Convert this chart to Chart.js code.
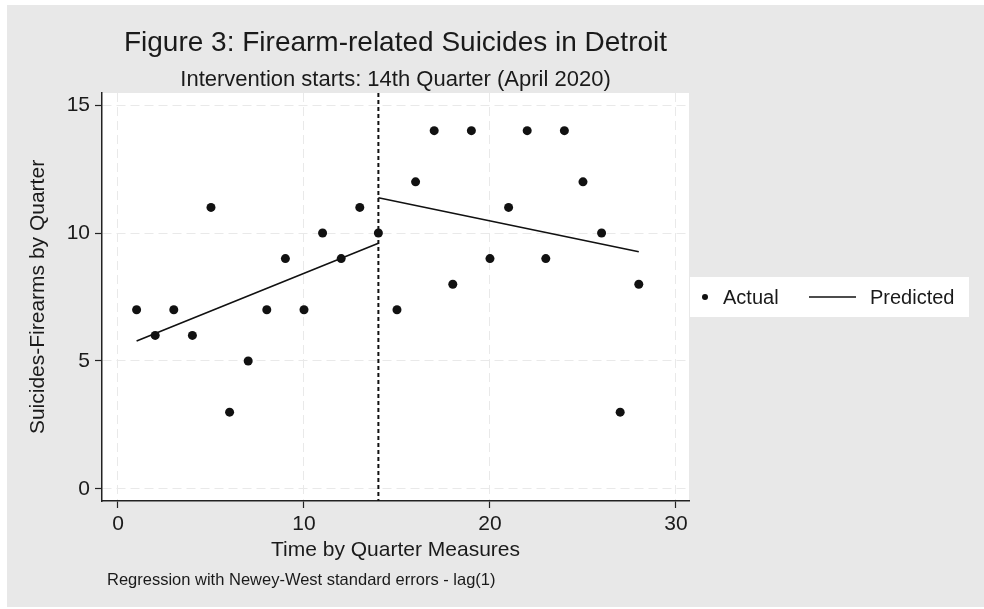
<!DOCTYPE html>
<html>
<head>
<meta charset="utf-8">
<script src="https://cdn.jsdelivr.net/npm/chart.js@4.4.1/dist/chart.umd.min.js"></script>
<style>
  html, body { margin: 0; padding: 0; background: #ffffff; }
  canvas { display: block; }
</style>
</head>
<body>
<canvas id="grafica" width="984" height="609"></canvas>
<script>
// datos
const quarters = [1, 2, 3, 4, 5, 6, 7, 8, 9, 10, 11, 12, 13, 14, 15, 16, 17, 18, 19, 20, 21, 22, 23, 24, 25, 26, 27, 28];
const actualSuicides = [7, 6, 7, 6, 11, 3, 5, 7, 9, 7, 10, 9, 11, 10, 7, 12, 14, 8, 14, 9, 11, 14, 9, 14, 12, 10, 3, 8];
const predictedQuarters = [1, 14, 14, 14, 28];
const predictedSuicides = [5.78, 9.6, null, 11.38, 9.27];
const interventionQuarter = 14;
const xTickValues = [0, 10, 20, 30];
const yTickValues = [0, 5, 10, 15];

const titleText = "Figure 3: Firearm-related Suicides in Detroit";
const subtitleText = "Intervention starts: 14th Quarter (April 2020)";
const noteText = "Regression with Newey-West standard errors - lag(1)";
const xTitle = "Time by Quarter Measures";
const yTitle = "Suicides-Firearms by Quarter";
const legendLabels = ["Actual", "Predicted"];

const FONT = "'Liberation Sans', Arial, Helvetica, sans-serif";
const INK = "#1a1a1a";

const fondo = {
  id: "fondo",
  beforeDraw(chart) {
    const { ctx, chartArea: a } = chart;
    ctx.save();
    ctx.fillStyle = "#ffffff";
    ctx.fillRect(0, 0, chart.width, chart.height);
    ctx.fillStyle = "#e8e8e8";
    ctx.fillRect(7, 5, chart.width - 7, 602);
    ctx.fillStyle = "#ffffff";
    ctx.fillRect(a.left, a.top, a.right - a.left, a.bottom - a.top);
    ctx.restore();
  }
};

const intervencion = {
  id: "intervencion",
  beforeDatasetsDraw(chart) {
    const { ctx, chartArea: a, scales } = chart;
    const x = scales.x.getPixelForValue(interventionQuarter);
    ctx.save();
    ctx.strokeStyle = "#111111";
    ctx.lineWidth = 2;
    ctx.setLineDash([4, 3]);
    ctx.beginPath();
    ctx.moveTo(x, a.top);
    ctx.lineTo(x, a.bottom);
    ctx.stroke();
    ctx.restore();
  }
};

const textos = {
  id: "textos",
  afterDraw(chart) {
    const { ctx, chartArea: a } = chart;
    const cx = (a.left + a.right) / 2;
    ctx.save();
    ctx.fillStyle = INK;
    ctx.textBaseline = "alphabetic";
    ctx.textAlign = "center";
    ctx.font = "28px " + FONT;
    ctx.fillText(titleText, cx, 51);
    ctx.font = "22px " + FONT;
    ctx.fillText(subtitleText, cx, 86);
    ctx.textAlign = "left";
    ctx.font = "16.5px " + FONT;
    ctx.fillText(noteText, 107, 585);

    // leyenda
    ctx.fillStyle = "#ffffff";
    ctx.fillRect(690, 277, 279, 40);
    ctx.fillStyle = "#111111";
    ctx.beginPath();
    ctx.arc(705, 297, 3, 0, Math.PI * 2);
    ctx.fill();
    ctx.strokeStyle = "#111111";
    ctx.lineWidth = 1.5;
    ctx.beginPath();
    ctx.moveTo(809, 297);
    ctx.lineTo(856, 297);
    ctx.stroke();
    ctx.fillStyle = INK;
    ctx.font = "20px " + FONT;
    ctx.fillText(legendLabels[0], 723, 304);
    ctx.fillText(legendLabels[1], 870, 304);
    ctx.restore();
  }
};

const ctx = document.getElementById("grafica").getContext("2d");
window.chart = new Chart(ctx, {
  type: "scatter",
  data: {
    datasets: [
      {
        label: legendLabels[0],
        data: quarters.map((q, i) => ({ x: q, y: actualSuicides[i] })),
        pointRadius: 4.5,
        pointHoverRadius: 4.5,
        pointBackgroundColor: "#111111",
        pointBorderWidth: 0,
        showLine: false
      },
      {
        label: legendLabels[1],
        data: predictedQuarters.map((q, i) => ({ x: q, y: predictedSuicides[i] })),
        showLine: true,
        spanGaps: false,
        borderColor: "#111111",
        borderWidth: 1.6,
        pointRadius: 0,
        fill: false
      }
    ]
  },
  options: {
    responsive: false,
    animation: false,
    events: [],
    layout: { padding: { left: 0, top: 93, right: 295, bottom: 28 } },
    plugins: {
      legend: { display: false },
      title: { display: false },
      tooltip: { enabled: false }
    },
    scales: {
      x: {
        type: "linear",
        min: -0.86,
        max: 30.7,
        afterBuildTicks: s => { s.ticks = xTickValues.map(v => ({ value: v })); },
        afterFit: s => { s.height = 80; },
        ticks: {
          color: INK,
          font: { family: FONT, size: 21 },
          padding: 4,
          maxRotation: 0
        },
        grid: {
          color: "#e9e9e9",
          lineWidth: 1,
          tickColor: "#222222",
          tickLength: 7,
          tickWidth: 1.2,
          tickBorderDash: []
        },
        border: { display: true, color: "#222222", width: 1.5, dash: [9, 5] },
        title: {
          display: true,
          text: xTitle,
          color: INK,
          font: { family: FONT, size: 21 },
          padding: { top: 0, bottom: 18 }
        }
      },
      y: {
        type: "linear",
        min: -0.47,
        max: 15.47,
        afterBuildTicks: s => { s.ticks = yTickValues.map(v => ({ value: v })); },
        afterFit: s => { s.width = 102; },
        ticks: {
          color: INK,
          font: { family: FONT, size: 21 },
          padding: 5
        },
        grid: {
          color: "#e9e9e9",
          lineWidth: 1,
          tickColor: "#222222",
          tickLength: 7,
          tickWidth: 1.2,
          tickBorderDash: []
        },
        border: { display: true, color: "#222222", width: 1.5, dash: [9, 5] },
        title: {
          display: true,
          text: yTitle,
          color: INK,
          font: { family: FONT, size: 21 },
          padding: { top: 26, bottom: 0 }
        }
      }
    }
  },
  plugins: [fondo, intervencion, textos]
});
</script>
</body>
</html>
